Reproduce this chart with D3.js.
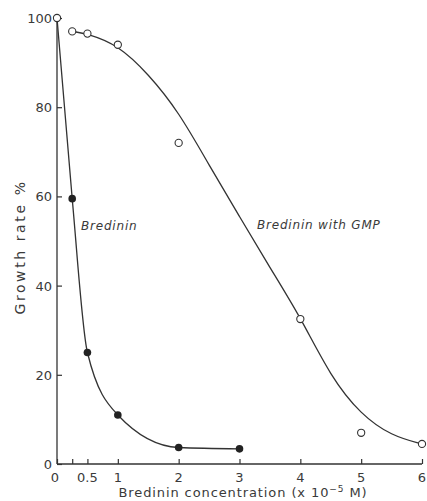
<!DOCTYPE html>
<html>
<head>
<meta charset="utf-8">
<script src="https://cdn.jsdelivr.net/npm/d3@7"></script>
<style>
  body { margin: 0; background: #fff; }
  text { font-family: "DejaVu Sans", sans-serif; fill: #3a3a3a; }
</style>
</head>
<body>
<div id="chart"></div>
<script>
// measured points
var bredininX = [0, 0.25, 0.5, 1, 2, 3]
var bredininY = [100, 59.5, 25, 11, 3.7, 3.4]

var gmpX = [0, 0.25, 0.5, 1, 2, 4, 5, 6]
var gmpY = [100, 97, 96.5, 94, 72, 32.5, 7, 4.5]

// hand drawn fitted curve for GMP series
var gmpCurveX = [0.25, 0.5, 1, 1.5, 2, 2.5, 3, 3.5, 4, 4.5, 5, 5.5, 6]
var gmpCurveY = [97, 96.5, 94, 87.5, 79, 67, 55.5, 44, 33, 19.5, 11, 6.3, 4.5]

var xTicks = [0, 0.25, 0.5, 1, 2, 3, 4, 5, 6]
var xTickLabels = ["0", "", "0.5", "1", "2", "3", "4", "5", "6"]
var yTicks = [0, 20, 40, 60, 80, 100]

var W = 427, H = 501
var svg = d3.select('#chart').append('svg').attr('width', W).attr('height', H)

var x = d3.scaleLinear().domain([0, 6]).range([57, 422])
var y = d3.scaleLinear().domain([0, 100]).range([464, 18])

var ink = '#333'

// axes
var yAxis = d3.axisRight(y).tickValues(yTicks).tickSize(5).tickFormat('')
svg.append('g').attr('transform', 'translate(' + x(0) + ',0)').call(yAxis)
var xAxis = d3.axisTop(x).tickValues(xTicks).tickSize(5).tickFormat('')
svg.append('g').attr('transform', 'translate(0,' + y(0) + ')').call(xAxis)
svg.selectAll('.domain').remove()
svg.selectAll('.tick line').attr('stroke', ink).attr('stroke-width', 1.2)

svg.append('line').attr('x1', x(0)).attr('x2', x(0)).attr('y1', y(0)).attr('y2', y(100))
  .attr('stroke', ink).attr('stroke-width', 1.3)
svg.append('line').attr('x1', x(0)).attr('x2', x(6)).attr('y1', y(0)).attr('y2', y(0))
  .attr('stroke', ink).attr('stroke-width', 1.3)

// tick labels
svg.selectAll('.ylab').data(yTicks).enter().append('text')
  .attr('x', x(0) - 5).attr('y', function(d) { return y(d) + 5 })
  .attr('text-anchor', 'end').attr('font-size', 13)
  .text(function(d) { return d })

svg.selectAll('.xlab').data(xTicks).enter().append('text')
  .attr('x', function(d) { return x(d) - (d == 0 ? 2 : 0) }).attr('y', y(0) + 18)
  .attr('text-anchor', 'middle').attr('font-size', 13)
  .text(function(d, i) { return xTickLabels[i] })

// titles
svg.append('text').attr('transform', 'translate(25,247) rotate(-90)')
  .attr('text-anchor', 'middle').attr('font-size', 14)
  .attr('letter-spacing', 2.6)
  .text('Growth rate  %')

var xt = svg.append('text').attr('x', 243).attr('y', 497)
  .attr('text-anchor', 'middle').attr('font-size', 13)
  .attr('letter-spacing', 0.9)
xt.append('tspan').text('Bredinin concentration (x 10')
xt.append('tspan').attr('font-size', 9).attr('dy', -5).text('\u22125')
xt.append('tspan').attr('dy', 5).text(' M)')

svg.append('text').attr('x', 81).attr('y', 230).attr('font-size', 12)
  .attr('font-style', 'italic').attr('letter-spacing', 0.8).text('Bredinin')
svg.append('text').attr('x', 257).attr('y', 229).attr('font-size', 12)
  .attr('font-style', 'italic').attr('letter-spacing', 0.8).text('Bredinin with GMP')

// curves
var bred = bredininX.map(function(d, i) { return [d, bredininY[i]] })
var gmp = gmpX.map(function(d, i) { return [d, gmpY[i]] })
var gmpCurve = gmpCurveX.map(function(d, i) { return [d, gmpCurveY[i]] })

var line = d3.line().x(function(d) { return x(d[0]) }).y(function(d) { return y(d[1]) })

svg.append('path').datum(bred).attr('d', line.curve(d3.curveMonotoneX))
  .attr('fill', 'none').attr('stroke', ink).attr('stroke-width', 1.3)
svg.append('path').datum(gmpCurve).attr('d', line.curve(d3.curveBasis))
  .attr('fill', 'none').attr('stroke', ink).attr('stroke-width', 1.3)

// markers
svg.selectAll('.gmp').data(gmp).enter().append('circle')
  .attr('cx', function(d) { return x(d[0]) }).attr('cy', function(d) { return y(d[1]) })
  .attr('r', 3.6).attr('fill', '#fff').attr('stroke', ink).attr('stroke-width', 1.1)
svg.selectAll('.bred').data(bred.slice(1)).enter().append('circle')
  .attr('cx', function(d) { return x(d[0]) }).attr('cy', function(d) { return y(d[1]) })
  .attr('r', 3.8).attr('fill', '#222')
</script>
</body>
</html>
